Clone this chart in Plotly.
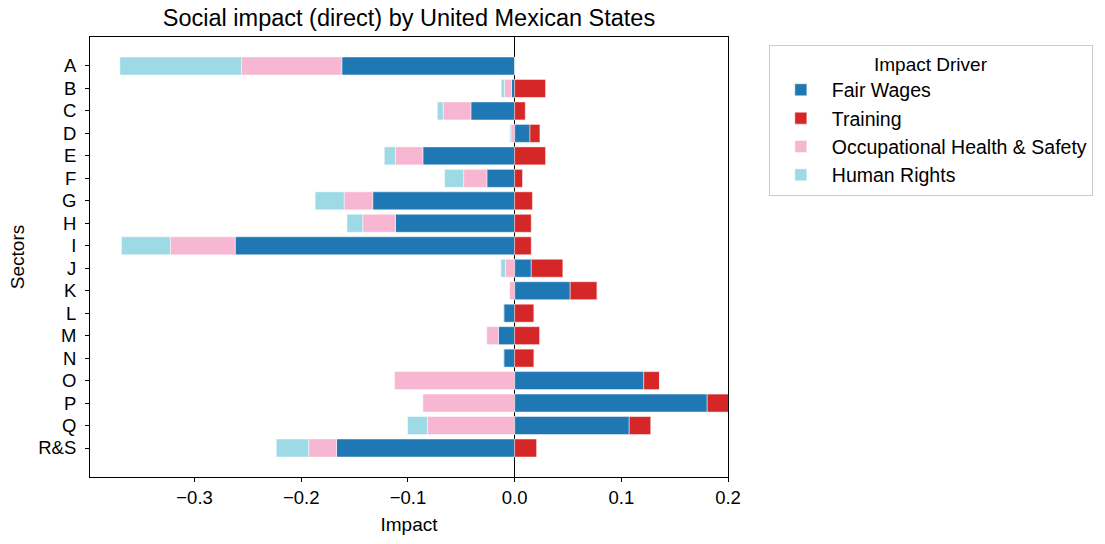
import plotly.graph_objects as go

sectors = ["A", "B", "C", "D", "E", "F", "G", "H", "I", "J", "K", "L", "M", "N", "O", "P", "Q", "R&S"]
fair_wages = [-0.162, -0.003, -0.041, 0.0144, -0.086, -0.026, -0.133, -0.1117, -0.2619, 0.0156, 0.0521, -0.0101, -0.0152, -0.0101, 0.121, 0.1805, 0.1074, -0.1669]
training = [0.0, 0.029, 0.010, 0.0093, 0.029, 0.0074, 0.0167, 0.0156, 0.0156, 0.0296, 0.0253, 0.0183, 0.0237, 0.0183, 0.0148, 0.021, 0.0202, 0.0206]
ohs = [-0.094, -0.0066, -0.026, -0.0035, -0.0257, -0.0218, -0.0268, -0.0307, -0.0607, -0.0086, -0.0047, -0.0008, -0.0109, -0.0008, -0.1125, -0.086, -0.0817, -0.0261]
human_rights = [-0.114, -0.003, -0.0055, -0.001, -0.0105, -0.0179, -0.0272, -0.0148, -0.0459, -0.0043, 0.0, 0.0, 0.0, 0.0, 0.0, 0.0, -0.0187, -0.0304]

series = [
    ("Fair Wages", fair_wages, "#1f77b4"),
    ("Training", training, "#d62728"),
    ("Occupational Health & Safety", ohs, "#f7b6d2"),
    ("Human Rights", human_rights, "#9edae5"),
]

ypos = list(range(len(sectors)))
fig = go.Figure()
for name, vals, color in series:
    fig.add_trace(go.Bar(
        x=vals, y=ypos, orientation="h", name=name, legendgroup=name,
        marker=dict(color=color, line=dict(color="rgba(255,255,255,0.6)", width=0.8)),
    ))

font_family = "Liberation Sans, Arial, sans-serif"
fig.update_layout(
    barmode="relative",
    bargap=0.2,
    width=1105, height=544,
    margin=dict(l=90, r=376, t=37, b=64),
    plot_bgcolor="white", paper_bgcolor="white",
    font=dict(family=font_family, size=18.5, color="black"),
    title=dict(text="Social impact (direct) by United Mexican States", x=0.5, xref="paper",
               xanchor="center", y=0.968, yanchor="middle", yref="container",
               font=dict(size=23.5, color="black")),
    legend=dict(
        title=dict(text="Impact Driver", side="top center", font=dict(size=19)),
        x=1.064, y=0.982, xanchor="left", yanchor="top",
        bordercolor="#cccccc", borderwidth=1, font=dict(size=19.5),
        tracegroupgap=6.5, traceorder="normal", itemwidth=52,
    ),
    showlegend=True,
)
fig.update_xaxes(
    range=[-0.398, 0.2], tickvals=[-0.3, -0.2, -0.1, 0.0, 0.1, 0.2],
    ticktext=["\u22120.3", "\u22120.2", "\u22120.1", "0.0", "0.1", "0.2"],
    showgrid=False, zeroline=True, zerolinecolor="black", zerolinewidth=1.2,
    showline=True, linecolor="black", linewidth=1, mirror=True,
    ticks="outside", ticklen=4, tickcolor="black", layer="above traces",
    title=dict(text="Impact", font=dict(size=19), standoff=10),
)
fig.update_yaxes(
    range=[18.29, -1.29], tickvals=ypos, ticktext=sectors,
    showgrid=False, zeroline=False,
    showline=True, linecolor="black", linewidth=1, mirror=True,
    ticks="outside", ticklen=4, tickcolor="black", ticklabelstandoff=5,
    title=dict(text="Sectors", font=dict(size=19), standoff=8),
)
fig.write_html("out.html")
